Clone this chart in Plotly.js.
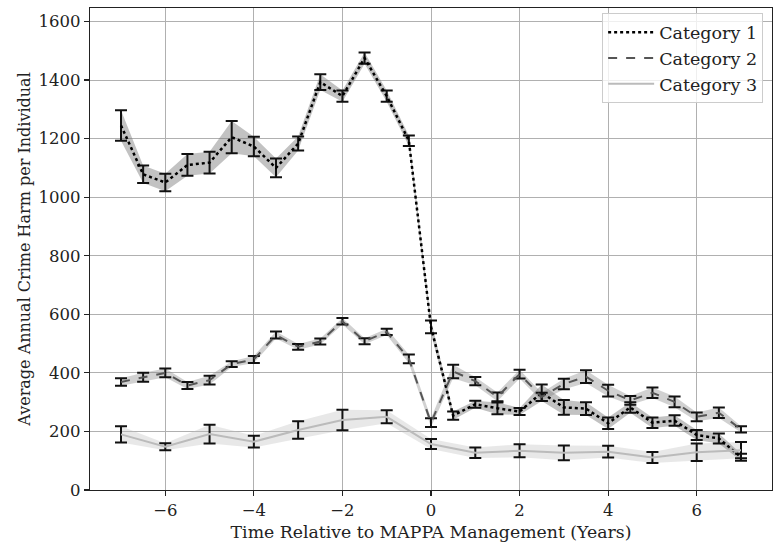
<!DOCTYPE html>
<html>
<head>
<meta charset="utf-8">
<script src="https://cdn.plot.ly/plotly-3.0.1.min.js"></script>
<style>
    html, body { margin: 0; padding: 0; background: #fff; }
    #plotDiv { width: 780px; height: 549px; }
</style>
</head>
<body>
<div id="plotDiv"></div>
<script>
// data
const halfYears = [-7, -6.5, -6, -5.5, -5, -4.5, -4, -3.5, -3, -2.5, -2, -1.5, -1, -0.5,
    0, 0.5, 1, 1.5, 2, 2.5, 3, 3.5, 4, 4.5, 5, 5.5, 6, 6.5, 7]
const wholeYears = [-7, -6, -5, -4, -3, -2, -1, 0, 1, 2, 3, 4, 5, 6, 7]

const cat1Mean = [1245, 1078, 1050, 1110, 1118, 1205, 1173, 1100, 1183, 1393, 1345, 1475, 1345, 1193,
    557, 254, 293, 279, 268, 332, 282, 278, 228, 282, 230, 237, 188, 176, 112]
const cat1Err = [52, 30, 30, 37, 37, 55, 33, 32, 24, 27, 19, 19, 19, 18,
    22, 14, 12, 20, 12, 28, 25, 22, 20, 18, 18, 18, 17, 17, 12]

const cat2Mean = [369, 385, 400, 357, 375, 430, 446, 529, 489, 507, 576, 508, 540, 448,
    230, 405, 372, 318, 396, 318, 362, 387, 339, 306, 332, 301, 250, 264, 207]
const cat2Err = [13, 15, 15, 12, 15, 10, 12, 12, 10, 10, 11, 10, 11, 15,
    15, 23, 14, 15, 15, 14, 18, 22, 20, 15, 18, 18, 15, 18, 11]

const cat3Mean = [190, 148, 191, 165, 205, 239, 250, 157, 127, 134, 127, 131, 111, 129, 136]
const cat3Err = [28, 12, 32, 20, 30, 35, 22, 17, 18, 22, 25, 20, 19, 30, 28]

const serif = '"DejaVu Serif", "Liberation Serif", serif'

function band(x, mean, err, fillcolor) {
    // lower edge then upper edge filled to it
    let lower = mean.map((m, i) => m - err[i])
    let upper = mean.map((m, i) => m + err[i])
    return [
        { type: 'scatter', x: x, y: lower, mode: 'lines', line: { width: 0 },
          showlegend: false, hoverinfo: 'skip' },
        { type: 'scatter', x: x, y: upper, mode: 'lines', line: { width: 0 },
          fill: 'tonexty', fillcolor: fillcolor, showlegend: false, hoverinfo: 'skip' }
    ]
}

function line(x, mean, err, name, color, dash, width) {
    return {
        type: 'scatter',
        x: x,
        y: mean,
        mode: 'lines',
        name: name,
        line: { color: color, dash: dash, width: width },
        error_y: { type: 'data', array: err, visible: true, color: '#111', thickness: 2, width: 6 }
    }
}

let plotData = [
    ...band(wholeYears, cat3Mean, cat3Err, 'rgba(190,190,190,0.35)'),
    ...band(halfYears, cat2Mean, cat2Err, 'rgba(140,140,140,0.4)'),
    ...band(halfYears, cat1Mean, cat1Err, 'rgba(120,120,120,0.45)'),
    line(halfYears, cat1Mean, cat1Err, 'Category 1', '#000000', 'dot', 2.5),
    line(halfYears, cat2Mean, cat2Err, 'Category 2', '#555555', 'dash', 2),
    line(wholeYears, cat3Mean, cat3Err, 'Category 3', '#bbbbbb', 'solid', 2)
]

let axisCommon = {
    showgrid: true,
    gridcolor: '#b0b0b0',
    gridwidth: 1,
    showline: true,
    linecolor: '#222',
    linewidth: 1.3,
    mirror: true,
    ticks: 'outside',
    ticklen: 5,
    tickwidth: 1.2,
    tickcolor: '#222',
    zeroline: false,
    tickfont: { family: serif, size: 16.5, color: '#222' }
}

let plotLayout = {
    width: 780,
    height: 549,
    margin: { l: 90, r: 8, t: 8, b: 59 },
    paper_bgcolor: '#ffffff',
    plot_bgcolor: '#ffffff',
    font: { family: serif, size: 16, color: '#222' },
    xaxis: Object.assign({}, axisCommon, {
        range: [-7.7, 7.7],
        tickvals: [-6, -4, -2, 0, 2, 4, 6],
        ticktext: ['\u22126', '\u22124', '\u22122', '0', '2', '4', '6'],
        title: { text: 'Time Relative to MAPPA Management (Years)', font: { family: serif, size: 17.3 }, standoff: 6 }
    }),
    yaxis: Object.assign({}, axisCommon, {
        range: [0, 1646],
        tickvals: [0, 200, 400, 600, 800, 1000, 1200, 1400, 1600],
        title: { text: 'Average Annual Crime Harm per Individual', font: { family: serif, size: 16 }, standoff: 3 }
    }),
    showlegend: true,
    legend: {
        x: 0.987,
        xanchor: 'right',
        y: 0.989,
        yanchor: 'top',
        traceorder: 'normal',
        itemwidth: 46,
        bgcolor: 'rgba(255,255,255,0.8)',
        bordercolor: '#cccccc',
        borderwidth: 1,
        font: { family: serif, size: 17.5, color: '#222' }
    }
}

Plotly.newPlot('plotDiv', plotData, plotLayout, { displayModeBar: false, staticPlot: true })
</script>
</body>
</html>
